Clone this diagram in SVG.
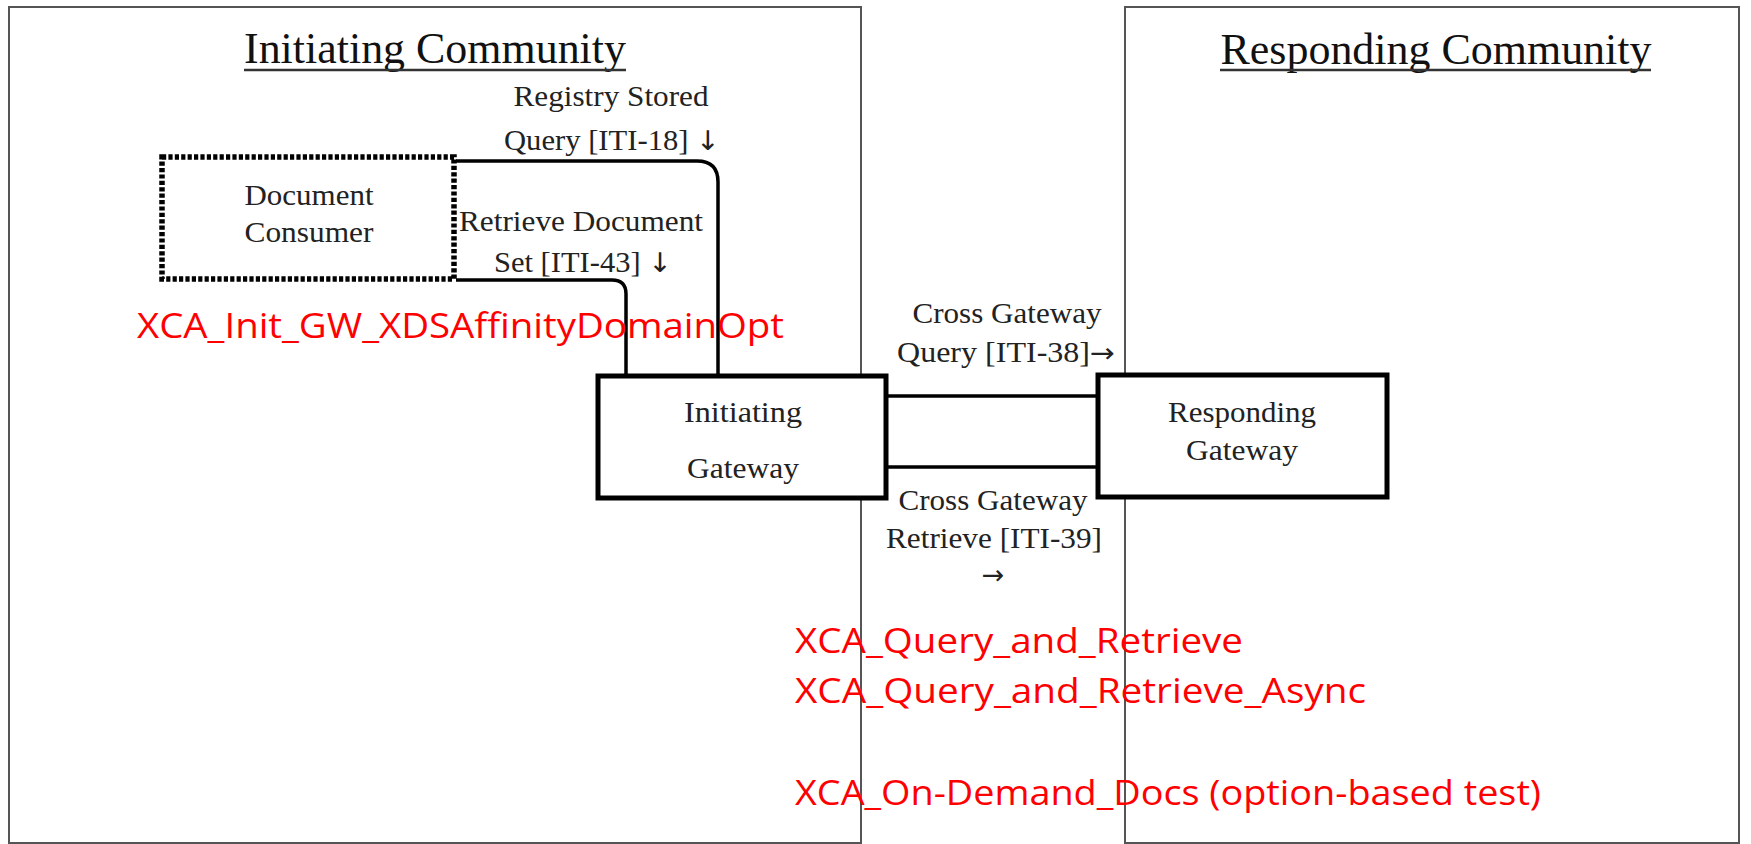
<svg xmlns="http://www.w3.org/2000/svg" width="1751" height="844" viewBox="0 0 1751 844">
<style>
.comm{fill:#fff;stroke:#555;stroke-width:2}
.title{font-family:"Liberation Serif",serif;font-size:44px;fill:#111;text-anchor:middle}
.ul{stroke:#333;stroke-width:2.5}
.lbl{font-family:"Liberation Serif",serif;font-size:29px;fill:#222;text-anchor:middle}
.arr{font-family:"DejaVu Sans",sans-serif;font-size:27px}
.gw{fill:#fff;stroke:#000;stroke-width:5}
.dc{fill:#fff;stroke:#000;stroke-width:5.5;stroke-dasharray:4.2 2.2}
.conn{fill:none;stroke:#000;stroke-width:3.5}
.red{font-family:"Open Sans","Liberation Sans",sans-serif;font-size:35px;fill:#f00}
</style>
<rect width="1751" height="844" fill="#fff"/>
<g id="initiating-community">
<rect class="comm" x="9" y="7" width="852" height="836"/>
<text class="title" x="435" y="63" textLength="382" lengthAdjust="spacingAndGlyphs">Initiating Community</text>
<line class="ul" x1="244" y1="70" x2="626" y2="70"/>
</g>
<g id="responding-community">
<rect class="comm" x="1125" y="7" width="614" height="836"/>
<text class="title" x="1436" y="64" textLength="431" lengthAdjust="spacingAndGlyphs">Responding Community</text>
<line class="ul" x1="1220" y1="70" x2="1651" y2="70"/>
</g>
<g id="connectors">
<path class="conn" d="M456 161 H697 Q718 161 718 182 V376"/>
<path class="conn" d="M456 280 H612 Q626 280 626 294 V376"/>
<line class="conn" x1="886" y1="396" x2="1097" y2="396"/>
<line class="conn" x1="886" y1="467" x2="1097" y2="467"/>
<text class="lbl" x="611" y="106" textLength="195" lengthAdjust="spacingAndGlyphs">Registry Stored</text>
<text class="lbl" x="612" y="150" textLength="216" lengthAdjust="spacingAndGlyphs">Query [ITI-18] <tspan class="arr">↓</tspan></text>
<text class="lbl" x="581" y="231" textLength="244" lengthAdjust="spacingAndGlyphs">Retrieve Document</text>
<text class="lbl" x="583" y="272" textLength="178" lengthAdjust="spacingAndGlyphs">Set [ITI-43] <tspan class="arr">↓</tspan></text>
<text class="lbl" x="1007" y="323" textLength="189" lengthAdjust="spacingAndGlyphs">Cross Gateway</text>
<text class="lbl" x="1006" y="362" textLength="218" lengthAdjust="spacingAndGlyphs">Query [ITI-38]<tspan class="arr">→</tspan></text>
<text class="lbl" x="993" y="510" textLength="189" lengthAdjust="spacingAndGlyphs">Cross Gateway</text>
<text class="lbl" x="994" y="548" textLength="216" lengthAdjust="spacingAndGlyphs">Retrieve [ITI-39]</text>
<text class="lbl arr" x="993" y="584">→</text>
</g>
<g id="document-consumer">
<rect class="dc" x="162" y="157" width="292" height="122"/>
<text class="lbl" x="309" y="205" textLength="129" lengthAdjust="spacingAndGlyphs">Document</text>
<text class="lbl" x="309" y="242" textLength="129" lengthAdjust="spacingAndGlyphs">Consumer</text>
</g>
<g id="initiating-gateway">
<rect class="gw" x="598" y="376" width="288" height="122"/>
<text class="lbl" x="743" y="422" textLength="118" lengthAdjust="spacingAndGlyphs">Initiating</text>
<text class="lbl" x="743" y="478" textLength="112" lengthAdjust="spacingAndGlyphs">Gateway</text>
</g>
<g id="responding-gateway">
<rect class="gw" x="1098" y="375" width="289" height="122"/>
<text class="lbl" x="1242" y="422" textLength="148" lengthAdjust="spacingAndGlyphs">Responding</text>
<text class="lbl" x="1242" y="460" textLength="112" lengthAdjust="spacingAndGlyphs">Gateway</text>
</g>
<g id="test-labels">
<text class="red" x="137" y="338" textLength="647" lengthAdjust="spacingAndGlyphs">XCA_Init_GW_XDSAffinityDomainOpt</text>
<text class="red" x="795" y="653" textLength="448" lengthAdjust="spacingAndGlyphs">XCA_Query_and_Retrieve</text>
<text class="red" x="795" y="703" textLength="571" lengthAdjust="spacingAndGlyphs">XCA_Query_and_Retrieve_Async</text>
<text class="red" x="795" y="805" textLength="746" lengthAdjust="spacingAndGlyphs">XCA_On-Demand_Docs (option-based test)</text>
</g>
</svg>
